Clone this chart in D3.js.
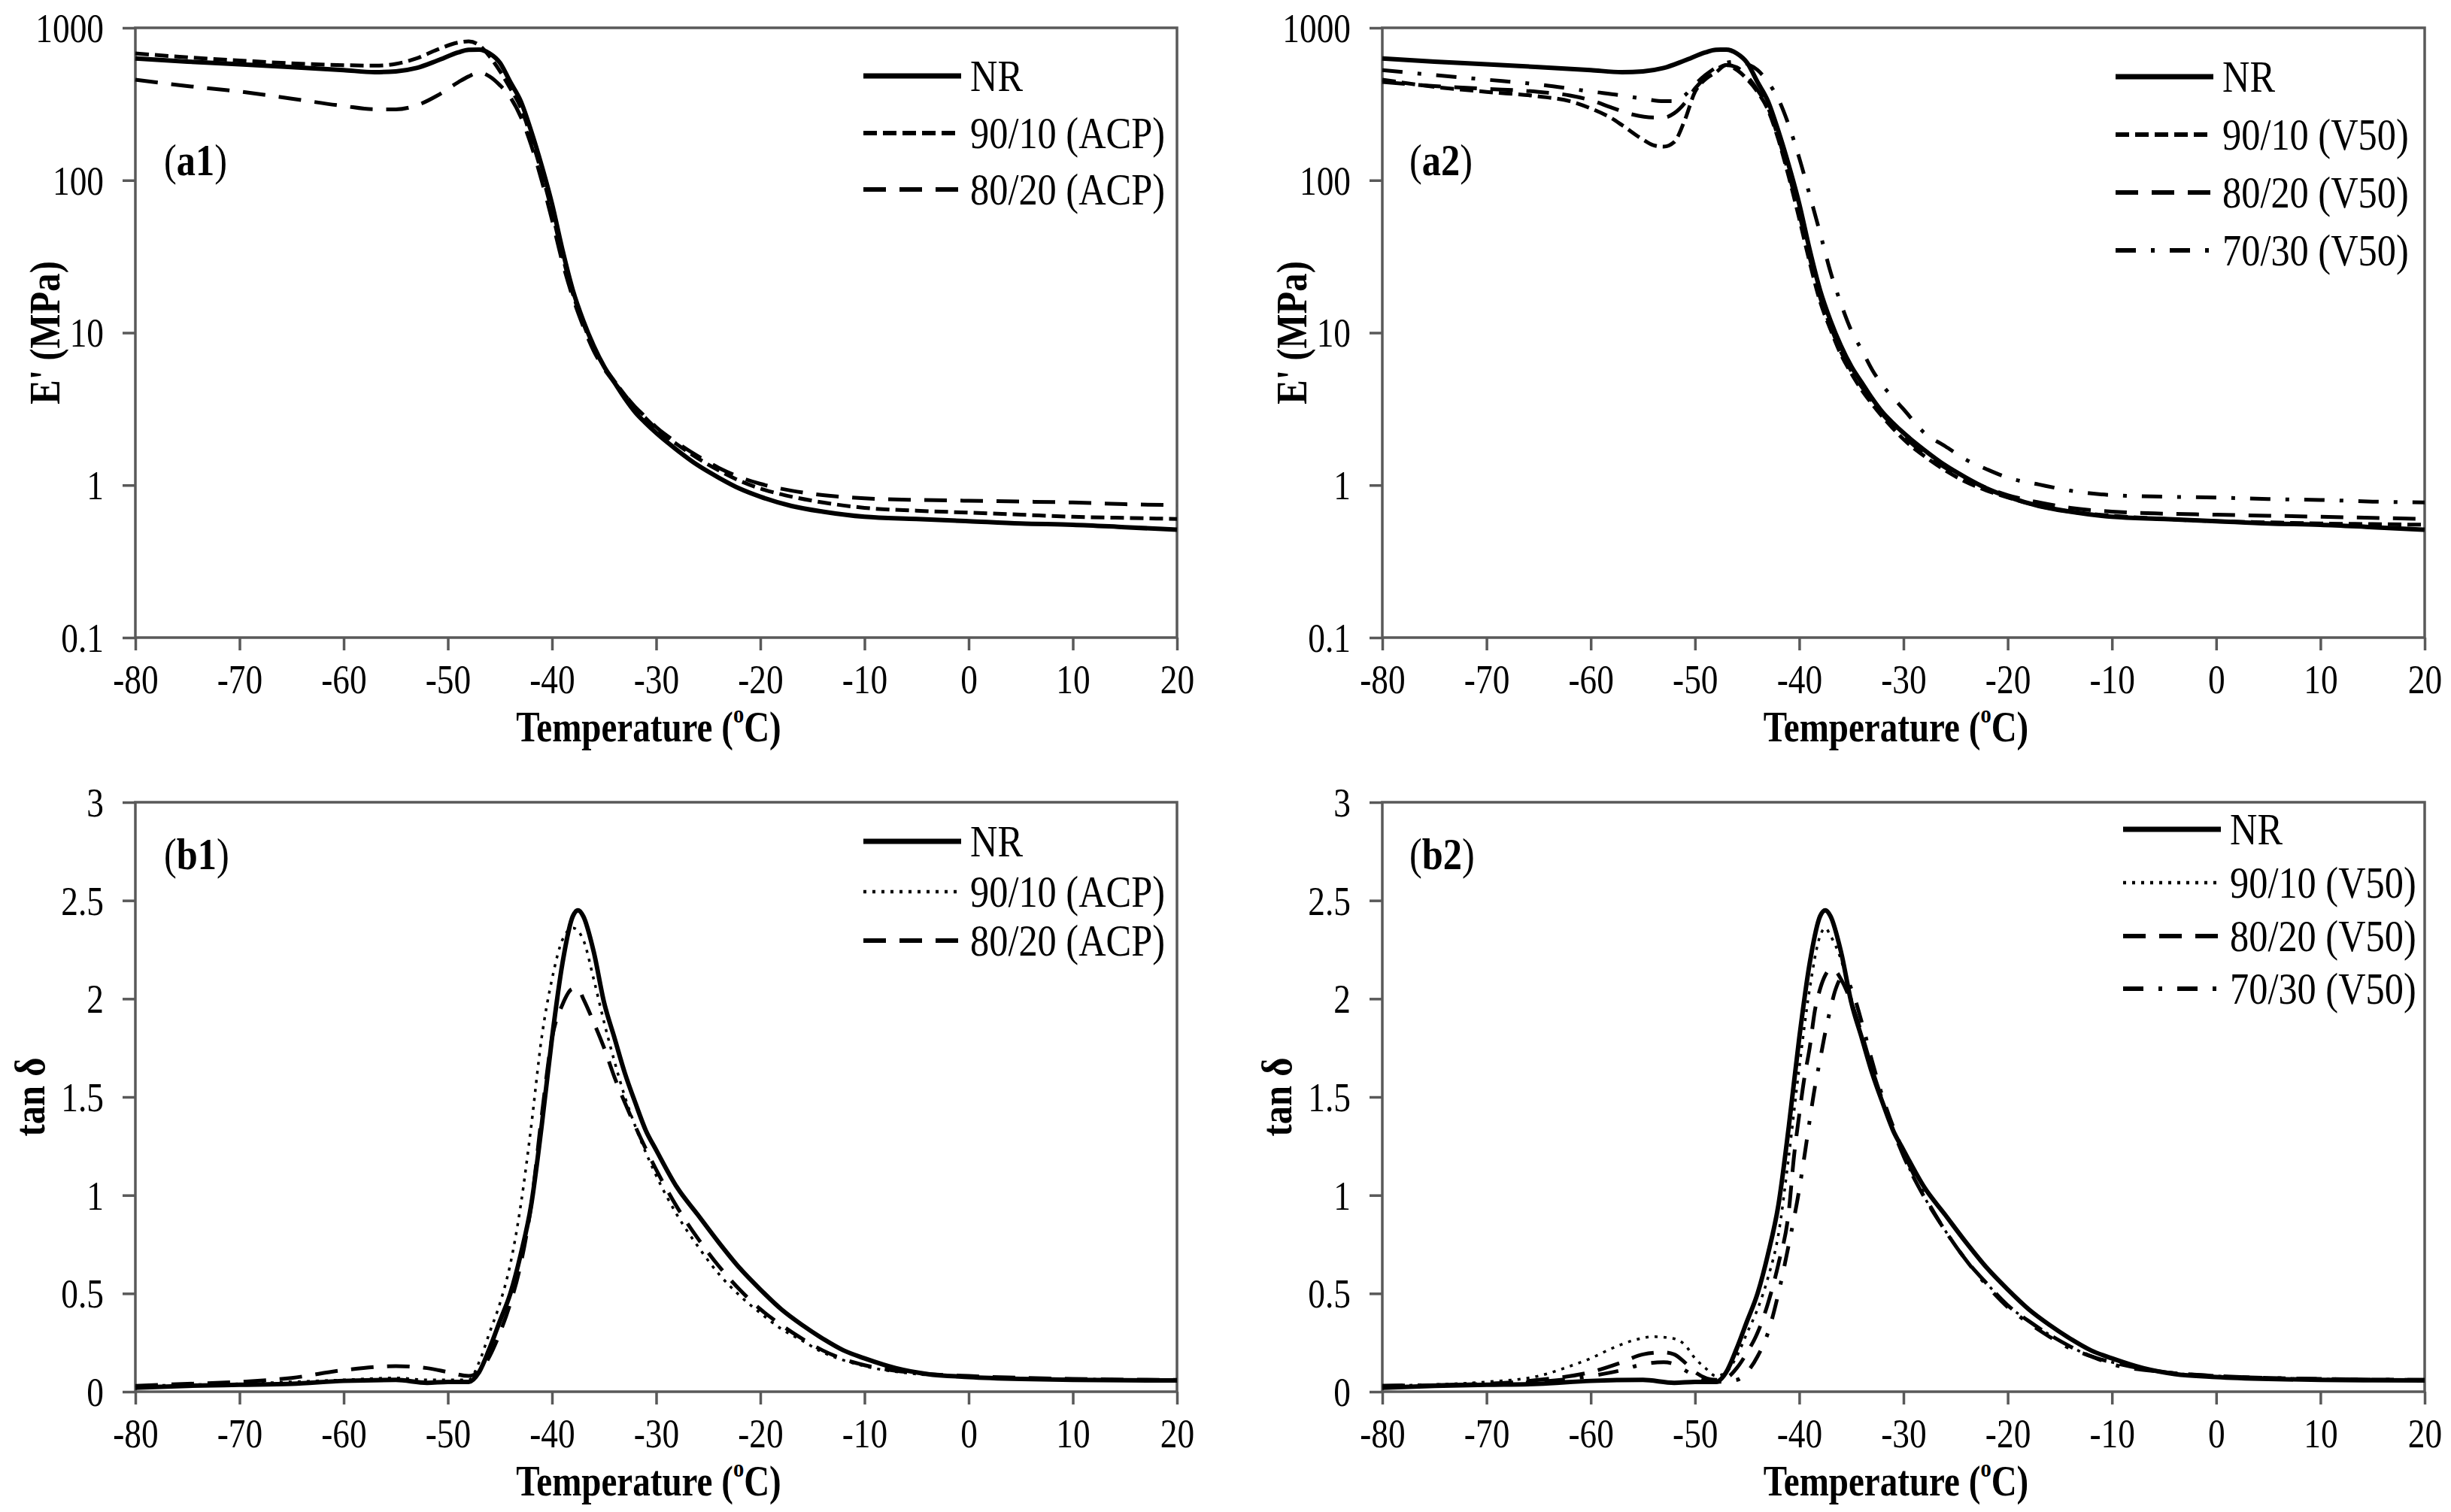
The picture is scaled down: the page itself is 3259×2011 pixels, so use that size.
<!DOCTYPE html>
<html>
<head>
<meta charset="utf-8">
<script src="https://cdn.jsdelivr.net/npm/d3@7"></script>
<style>
  body { margin: 0; background: #fff; }
  svg { display: block; }
</style>
</head>
<body>
<div id="chart"></div>
<script>
// ---- data: [temperature (C), value] ----
// storage modulus E' (MPa), NR is the same sample in a1 and a2
var nrModulus = [[-80,630],[-75,600],[-70,577],[-65,553],[-60,528],[-57,512],[-55,518],[-53,545],[-51,610],[-49,690],[-48,718],[-47,720],[-46,680],[-45,590],[-44,440],[-43,330],[-42,210],[-41,125],[-40,70],[-39,35],[-38,19],[-37,12],[-36,8.2],[-35,6.0],[-34,4.7],[-33,3.7],[-32,3.0],[-31,2.55],[-30,2.2],[-28,1.7],[-26,1.35],[-24,1.12],[-22,0.95],[-20,0.84],[-17,0.73],[-14,0.67],[-10,0.62],[-5,0.6],[0,0.58],[5,0.56],[10,0.55],[15,0.53],[20,0.51]];
var acp90Modulus = [[-80,680],[-75,640],[-70,611],[-65,585],[-60,569],[-57,565],[-55,580],[-53,630],[-51,720],[-49,800],[-48,815],[-47,770],[-46,650],[-45,520],[-44,400],[-43,300],[-42,190],[-41,112],[-40,62],[-39,32],[-38,18],[-37,11.5],[-36,7.9],[-35,6.0],[-34,4.8],[-33,3.9],[-32,3.2],[-31,2.75],[-30,2.35],[-28,1.85],[-26,1.5],[-24,1.25],[-22,1.07],[-20,0.95],[-17,0.84],[-14,0.77],[-10,0.71],[-5,0.68],[0,0.66],[5,0.64],[10,0.62],[15,0.61],[20,0.6]];
var acp80Modulus = [[-80,457],[-75,415],[-70,382],[-65,343],[-60,307],[-57,292],[-55,292],[-53,310],[-51,360],[-49,440],[-48,480],[-47,510],[-46,480],[-45,420],[-44,350],[-43,260],[-42,170],[-41,100],[-40,55],[-39,29],[-38,17],[-37,11],[-36,7.6],[-35,5.8],[-34,4.7],[-33,3.9],[-32,3.25],[-31,2.8],[-30,2.4],[-28,1.9],[-26,1.55],[-24,1.3],[-22,1.13],[-20,1.02],[-17,0.92],[-14,0.86],[-10,0.82],[-5,0.8],[0,0.79],[5,0.78],[10,0.77],[15,0.75],[20,0.74]];
var v90Modulus = [[-80,457],[-75,410],[-70,380],[-65,355],[-62,330],[-60,296],[-58,255],[-57,230],[-55,185],[-54,170],[-53,166],[-52,178],[-51,246],[-50,380],[-49,460],[-48,510],[-47,570],[-46,530],[-45,460],[-44,380],[-43,290],[-42,185],[-41,105],[-40,56],[-39,29],[-38,16],[-37,10.5],[-36,7.2],[-35,5.4],[-34,4.2],[-33,3.4],[-32,2.8],[-31,2.35],[-30,2.0],[-28,1.55],[-26,1.25],[-24,1.05],[-22,0.92],[-20,0.83],[-17,0.73],[-14,0.67],[-10,0.63],[-5,0.6],[0,0.58],[5,0.57],[10,0.56],[15,0.555],[20,0.55]];
var v80Modulus = [[-80,442],[-75,415],[-70,398],[-65,380],[-62,360],[-60,335],[-58,300],[-56,270],[-54,258],[-53,258],[-52,275],[-51,320],[-50,400],[-49,470],[-48,530],[-47,570],[-46,550],[-45,480],[-44,390],[-43,300],[-42,190],[-41,110],[-40,60],[-39,31],[-38,17],[-37,11],[-36,7.5],[-35,5.6],[-34,4.4],[-33,3.55],[-32,2.9],[-31,2.45],[-30,2.1],[-28,1.6],[-26,1.3],[-24,1.1],[-22,0.96],[-20,0.86],[-17,0.77],[-14,0.71],[-10,0.67],[-5,0.65],[0,0.64],[5,0.63],[10,0.62],[15,0.61],[20,0.6]];
var v70Modulus = [[-80,528],[-75,490],[-70,457],[-65,425],[-60,382],[-57,360],[-55,343],[-53,330],[-52,330],[-51,360],[-50,425],[-49,490],[-48,548],[-47,590],[-46,600],[-45,580],[-44,528],[-43,440],[-42,340],[-41,229],[-40,140],[-39,80],[-38,45],[-37,25],[-36,15.5],[-35,10.3],[-34,7.7],[-33,5.7],[-32,4.5],[-31,3.75],[-30,3.15],[-28,2.2],[-26,1.8],[-24,1.47],[-22,1.27],[-20,1.12],[-17,1.01],[-14,0.92],[-10,0.86],[-5,0.84],[0,0.83],[5,0.81],[10,0.8],[15,0.78],[20,0.77]];

// loss factor tan delta
var nrTan = [[-80,0.02],[-75,0.03],[-70,0.035],[-65,0.04],[-60,0.055],[-55,0.06],[-52,0.045],[-50,0.05],[-48,0.05],[-47,0.1],[-46,0.22],[-45,0.36],[-44,0.5],[-43,0.7],[-42,0.95],[-41,1.35],[-40,1.8],[-39,2.18],[-38,2.42],[-37.5,2.45],[-37,2.42],[-36,2.24],[-35,1.98],[-34,1.8],[-33,1.62],[-32,1.47],[-31,1.33],[-30,1.23],[-28,1.04],[-26,0.9],[-24,0.76],[-22,0.63],[-20,0.52],[-18,0.42],[-16,0.34],[-14,0.27],[-12,0.21],[-10,0.17],[-7,0.12],[-4,0.09],[0,0.075],[5,0.065],[10,0.06],[15,0.058],[20,0.057]];
var acp90Tan = [[-80,0.03],[-75,0.035],[-70,0.04],[-65,0.05],[-60,0.06],[-55,0.07],[-52,0.06],[-50,0.06],[-48,0.06],[-47,0.15],[-46,0.3],[-45,0.45],[-44,0.65],[-43,0.95],[-42,1.35],[-41,1.8],[-40,2.1],[-39,2.3],[-38,2.36],[-37,2.3],[-36,2.1],[-35,1.88],[-34,1.68],[-33,1.5],[-32,1.35],[-30,1.1],[-28,0.9],[-26,0.74],[-24,0.6],[-22,0.49],[-20,0.4],[-18,0.32],[-16,0.26],[-14,0.2],[-12,0.16],[-10,0.13],[-5,0.09],[0,0.075],[10,0.065],[20,0.06]];
var acp80Tan = [[-80,0.03],[-75,0.04],[-70,0.05],[-65,0.07],[-60,0.11],[-55,0.13],[-52,0.12],[-50,0.1],[-48,0.08],[-47,0.1],[-46,0.18],[-45,0.3],[-44,0.45],[-43,0.65],[-42,0.95],[-41,1.4],[-40,1.8],[-39,1.97],[-38,2.05],[-37.5,2.05],[-37,2.0],[-36,1.88],[-35,1.75],[-34,1.6],[-33,1.47],[-32,1.35],[-30,1.13],[-28,0.94],[-26,0.78],[-24,0.64],[-22,0.52],[-20,0.42],[-18,0.34],[-16,0.27],[-14,0.21],[-12,0.165],[-10,0.135],[-5,0.095],[0,0.08],[10,0.065],[20,0.06]];
var v90Tan = [[-80,0.03],[-70,0.05],[-65,0.08],[-62,0.13],[-60,0.17],[-58,0.22],[-56,0.26],[-54,0.28],[-52,0.27],[-51,0.24],[-50,0.17],[-49,0.12],[-48,0.08],[-47,0.1],[-46,0.18],[-45,0.3],[-44,0.42],[-43,0.58],[-42,0.8],[-41,1.2],[-40,1.65],[-39,2.05],[-38,2.32],[-37.5,2.36],[-37,2.32],[-36,2.2],[-35,2.0],[-34,1.8],[-33,1.62],[-32,1.47],[-30,1.2],[-28,0.99],[-26,0.82],[-24,0.67],[-22,0.55],[-20,0.44],[-18,0.36],[-16,0.29],[-14,0.23],[-12,0.18],[-10,0.15],[-5,0.1],[0,0.08],[10,0.065],[20,0.06]];
var v80Tan = [[-80,0.03],[-70,0.04],[-65,0.06],[-60,0.1],[-57,0.15],[-55,0.19],[-53,0.2],[-52,0.19],[-51,0.15],[-50,0.1],[-48,0.06],[-47,0.07],[-46,0.12],[-45,0.2],[-44,0.3],[-43,0.45],[-42,0.65],[-41,0.92],[-40.5,1.2],[-40,1.41],[-39.5,1.6],[-39,1.75],[-38.5,1.94],[-38,2.05],[-37.5,2.12],[-37,2.15],[-36.5,2.14],[-36,2.1],[-35,1.98],[-34,1.82],[-33,1.64],[-32,1.48],[-30,1.2],[-28,0.99],[-26,0.82],[-24,0.67],[-22,0.55],[-20,0.44],[-18,0.36],[-16,0.29],[-14,0.23],[-12,0.18],[-10,0.15],[-5,0.1],[0,0.08],[10,0.065],[20,0.06]];
var v70Tan = [[-80,0.03],[-70,0.04],[-65,0.05],[-60,0.08],[-57,0.11],[-55,0.14],[-53,0.15],[-52,0.14],[-51,0.11],[-50,0.08],[-48,0.05],[-46,0.06],[-45,0.1],[-44,0.18],[-43,0.3],[-42,0.5],[-41,0.75],[-40,1.03],[-39.5,1.2],[-39,1.38],[-38.5,1.55],[-38,1.69],[-37.5,1.83],[-37,1.95],[-36.5,2.05],[-36,2.1],[-35.5,2.1],[-35,2.05],[-34,1.88],[-33,1.68],[-32,1.5],[-30,1.22],[-28,1.0],[-26,0.82],[-24,0.67],[-22,0.54],[-20,0.43],[-18,0.35],[-16,0.28],[-14,0.22],[-12,0.18],[-10,0.14],[-5,0.1],[0,0.08],[10,0.065],[20,0.06]];

// axis ticks
var tempTicks = [-80,-70,-60,-50,-40,-30,-20,-10,0,10,20];
var modulusTicks = [0.1,1,10,100,1000];
var tanTicks = [0,0.5,1,1.5,2,2.5,3];

// legend names
var acpNames = ["NR","90/10 (ACP)","80/20 (ACP)"];
var v50Names = ["NR","90/10 (V50)","80/20 (V50)","70/30 (V50)"];

//line styles
var styles = {
    solid:     {width: 6,   dash: null},
    shortDash: {width: 5,   dash: "18,8"},
    longDash:  {width: 5,   dash: "30,18"},
    dotted:    {width: 3.5, dash: "4,8"},
    dashDot:   {width: 5,   dash: "27,20,5,20"}
};

var FONT = "'Liberation Serif','Times New Roman',serif";
var SQUEEZE = "scale(0.84,1)";   // the reference type is narrow
var AXIS_COLOR = "#595959";

var svg = d3.select("#chart").append("svg")
    .attr("width", 3259)
    .attr("height", 2011);

// panel set ups
var panels = [
    {tag: "a1", left: 180, right: 1565, top: 37, bottom: 848, log: true,
     series: [nrModulus, acp90Modulus, acp80Modulus], names: acpNames,
     kinds: ["solid","shortDash","longDash"],
     legend: {x: 1148, w: 130, rows: [101,177,252]}, tagPos: [218, 212]},
    {tag: "a2", left: 1838, right: 3224, top: 37, bottom: 848, log: true,
     series: [nrModulus, v90Modulus, v80Modulus, v70Modulus], names: v50Names,
     kinds: ["solid","shortDash","longDash","dashDot"],
     legend: {x: 2813, w: 130, rows: [102,179,256,333]}, tagPos: [1874, 212]},
    {tag: "b1", left: 180, right: 1565, top: 1067, bottom: 1851, log: false,
     series: [nrTan, acp90Tan, acp80Tan], names: acpNames,
     kinds: ["solid","dotted","longDash"],
     legend: {x: 1148, w: 130, rows: [1119,1186,1251]}, tagPos: [218, 1135]},
    {tag: "b2", left: 1838, right: 3224, top: 1067, bottom: 1851, log: false,
     series: [nrTan, v90Tan, v80Tan, v70Tan], names: v50Names,
     kinds: ["solid","dotted","longDash","dashDot"],
     legend: {x: 2823, w: 130, rows: [1103,1174,1245,1315]}, tagPos: [1874, 1135]}
];

function squeezedText(parent, x, y, size, weight, anchor) {
    return parent.append("g")
        .attr("transform", `translate(${x},${y})`)
      .append("text")
        .attr("transform", SQUEEZE)
        .attr("font-family", FONT)
        .attr("font-size", size)
        .attr("font-weight", weight)
        .attr("text-anchor", anchor)
        .attr("dominant-baseline", "central")
        .attr("fill", "#000");
}

function styleAxis(axisG) {
    axisG.select(".domain").remove();
    axisG.selectAll("line").attr("stroke", AXIS_COLOR).attr("stroke-width", 3.5);
    axisG.selectAll("text")
        .attr("font-family", FONT)
        .attr("font-size", 54)
        .attr("fill", "#000")
        .attr("transform", SQUEEZE);
}

panels.forEach(function(p) {
    var w = p.right - p.left;
    var h = p.bottom - p.top;
    var g = svg.append("g").attr("transform", `translate(${p.left},${p.top})`);

    var x = d3.scaleLinear().domain([-80, 20]).range([0, w]);
    var y = p.log
        ? d3.scaleLog().domain([0.1, 1000]).range([h, 0])
        : d3.scaleLinear().domain([0, 3]).range([h, 0]);

    // axes (plain hyphen for negatives, like the reference)
    var bottomAxis = d3.axisBottom(x).tickValues(tempTicks).tickSize(17).tickSizeOuter(0)
        .tickFormat(d => String(d));
    var leftAxis = d3.axisLeft(y).tickValues(p.log ? modulusTicks : tanTicks)
        .tickSize(17).tickSizeOuter(0)
        .tickFormat(d => String(d));

    var xAxis = g.append("g").attr("transform", `translate(0,${h})`).call(bottomAxis);
    styleAxis(xAxis);
    xAxis.selectAll("text").attr("y", 36).attr("dy", "0.71em");

    var yAxis = g.append("g").call(leftAxis);
    styleAxis(yAxis);
    yAxis.selectAll("text").attr("x", -50).attr("dy", "0.34em");

    // frame
    g.append("rect")
        .attr("width", w)
        .attr("height", h)
        .attr("fill", "none")
        .attr("stroke", AXIS_COLOR)
        .attr("stroke-width", 3.5);

    // curves
    var line = d3.line()
        .x(d => x(d[0]))
        .y(d => y(d[1]))
        .curve(d3.curveMonotoneX);

    p.series.forEach(function(s, i) {
        var st = styles[p.kinds[i]];
        g.append("path")
            .datum(s)
            .attr("d", line)
            .attr("fill", "none")
            .attr("stroke", "#000")
            .attr("stroke-width", st.width)
            .attr("stroke-dasharray", st.dash)
            .attr("stroke-linejoin", "round");
    });

    // legend
    p.names.forEach(function(name, i) {
        var st = styles[p.kinds[i]];
        var ry = p.legend.rows[i];
        svg.append("line")
            .attr("x1", p.legend.x)
            .attr("x2", p.legend.x + p.legend.w)
            .attr("y1", ry)
            .attr("y2", ry)
            .attr("stroke", "#000")
            .attr("stroke-width", st.width + 1)
            .attr("stroke-dasharray", st.dash);
        squeezedText(svg, p.legend.x + p.legend.w + 12, ry, 60, "normal", "start").text(name);
    });

    // panel tag like (a1)
    var tag = squeezedText(svg, p.tagPos[0], p.tagPos[1], 60, "normal", "start");
    tag.append("tspan").text("(");
    tag.append("tspan").attr("font-weight", "bold").text(p.tag);
    tag.append("tspan").text(")");

    // x label
    var xl = squeezedText(g, w / 2 - 10, h + 119, 56, "bold", "middle");
    xl.append("tspan").text("Temperature (");
    xl.append("tspan").attr("font-size", 34).attr("dy", -18).text("o");
    xl.append("tspan").attr("dy", 18).text("C)");

    // y label
    var yLabelX = p.log ? -120 : -140;
    svg.append("g")
        .attr("transform", `translate(${p.left + yLabelX},${p.top + h / 2}) rotate(-90)`)
      .append("text")
        .attr("transform", SQUEEZE)
        .attr("font-family", FONT)
        .attr("font-size", 58)
        .attr("font-weight", "bold")
        .attr("text-anchor", "middle")
        .attr("dominant-baseline", "central")
        .text(p.log ? "E' (MPa)" : "tan δ");
});
</script>
</body>
</html>
